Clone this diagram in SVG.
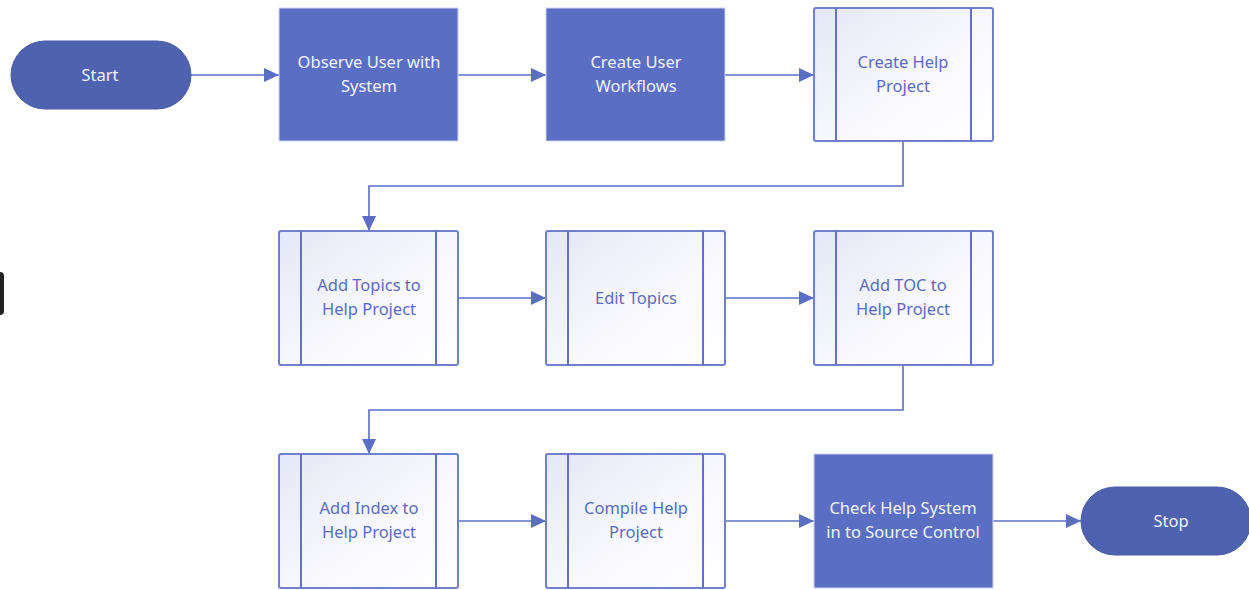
<svg xmlns="http://www.w3.org/2000/svg" width="1249" height="590" viewBox="0 0 1249 590">
<style>
.term{fill:#4F62B0;stroke:#4A5CA8;stroke-width:1}
.proc{fill:#5A6FC4;stroke:#D0D5EE;stroke-width:1}
.sub{fill:url(#sg);stroke:#7080CC;stroke-width:2}
.bar{stroke:#6072C6;stroke-width:2}
.lt{font-family:"Noto Sans","Open Sans",sans-serif;font-size:16.5px;fill:#F2F3FA;text-anchor:middle}
.dt{font-family:"Noto Sans","Open Sans",sans-serif;font-size:16.5px;fill:#5A6CC0;text-anchor:middle}
.conn{fill:none;stroke:#5A6FC4;stroke-width:1.6}
</style>
<defs>
<linearGradient id="sg" x1="0" y1="0" x2="1" y2="1">
<stop offset="0" stop-color="#E4E7F6"/>
<stop offset="0.6" stop-color="#FAFAFE"/>
<stop offset="1" stop-color="#FFFFFF"/>
</linearGradient>
<marker id="ah" markerWidth="15" markerHeight="14" refX="15" refY="7" orient="auto" markerUnits="userSpaceOnUse">
<path d="M0,0 L15,7 L0,14 Z" fill="#5A6FC4"/>
</marker>
</defs>
<rect x="-10" y="272" width="14" height="43" rx="4" fill="#222"/>
<g id="connectors">
<path class="conn" d="M191,75 H279" marker-end="url(#ah)"/>
<path class="conn" d="M458,75 H546" marker-end="url(#ah)"/>
<path class="conn" d="M725,75 H814" marker-end="url(#ah)"/>
<path class="conn" d="M903,141 V186 H369 V231" marker-end="url(#ah)"/>
<path class="conn" d="M458,298 H546" marker-end="url(#ah)"/>
<path class="conn" d="M725,298 H814" marker-end="url(#ah)"/>
<path class="conn" d="M903,365 V410 H369 V454" marker-end="url(#ah)"/>
<path class="conn" d="M458,521 H546" marker-end="url(#ah)"/>
<path class="conn" d="M725,521 H814" marker-end="url(#ah)"/>
<path class="conn" d="M993,521 H1081" marker-end="url(#ah)"/>
</g>
<g id="start">
<rect class="term" x="11" y="41" width="180" height="68" rx="34"/>
<text class="lt" x="100" y="81">Start</text>
</g>
<g id="observe">
<rect class="proc" x="279" y="8" width="179" height="133"/>
<text class="lt" x="369" y="68">Observe User with</text>
<text class="lt" x="369" y="92">System</text>
</g>
<g id="workflows">
<rect class="proc" x="546" y="8" width="179" height="133"/>
<text class="lt" x="636" y="68">Create User</text>
<text class="lt" x="636" y="92">Workflows</text>
</g>
<g id="createhelp">
<rect class="sub" x="814" y="8" width="179" height="133" rx="2"/>
<line class="bar" x1="836" y1="8" x2="836" y2="141"/>
<line class="bar" x1="971" y1="8" x2="971" y2="141"/>
<text class="dt" x="903" y="68">Create Help</text>
<text class="dt" x="903" y="92">Project</text>
</g>
<g id="addtopics">
<rect class="sub" x="279" y="231" width="179" height="134" rx="2"/>
<line class="bar" x1="301" y1="231" x2="301" y2="365"/>
<line class="bar" x1="436" y1="231" x2="436" y2="365"/>
<text class="dt" x="369" y="291">Add Topics to</text>
<text class="dt" x="369" y="315">Help Project</text>
</g>
<g id="edittopics">
<rect class="sub" x="546" y="231" width="179" height="134" rx="2"/>
<line class="bar" x1="568" y1="231" x2="568" y2="365"/>
<line class="bar" x1="703" y1="231" x2="703" y2="365"/>
<text class="dt" x="636" y="304">Edit Topics</text>
</g>
<g id="addtoc">
<rect class="sub" x="814" y="231" width="179" height="134" rx="2"/>
<line class="bar" x1="836" y1="231" x2="836" y2="365"/>
<line class="bar" x1="971" y1="231" x2="971" y2="365"/>
<text class="dt" x="903" y="291">Add TOC to</text>
<text class="dt" x="903" y="315">Help Project</text>
</g>
<g id="addindex">
<rect class="sub" x="279" y="454" width="179" height="134" rx="2"/>
<line class="bar" x1="301" y1="454" x2="301" y2="588"/>
<line class="bar" x1="436" y1="454" x2="436" y2="588"/>
<text class="dt" x="369" y="514">Add Index to</text>
<text class="dt" x="369" y="538">Help Project</text>
</g>
<g id="compile">
<rect class="sub" x="546" y="454" width="179" height="134" rx="2"/>
<line class="bar" x1="568" y1="454" x2="568" y2="588"/>
<line class="bar" x1="703" y1="454" x2="703" y2="588"/>
<text class="dt" x="636" y="514">Compile Help</text>
<text class="dt" x="636" y="538">Project</text>
</g>
<g id="checkin">
<rect class="proc" x="814" y="454" width="179" height="134"/>
<text class="lt" x="903" y="514">Check Help System</text>
<text class="lt" x="903" y="538">in to Source Control</text>
</g>
<g id="stop">
<rect class="term" x="1081" y="487" width="170" height="68" rx="34"/>
<text class="lt" x="1171" y="527">Stop</text>
</g>
</svg>
